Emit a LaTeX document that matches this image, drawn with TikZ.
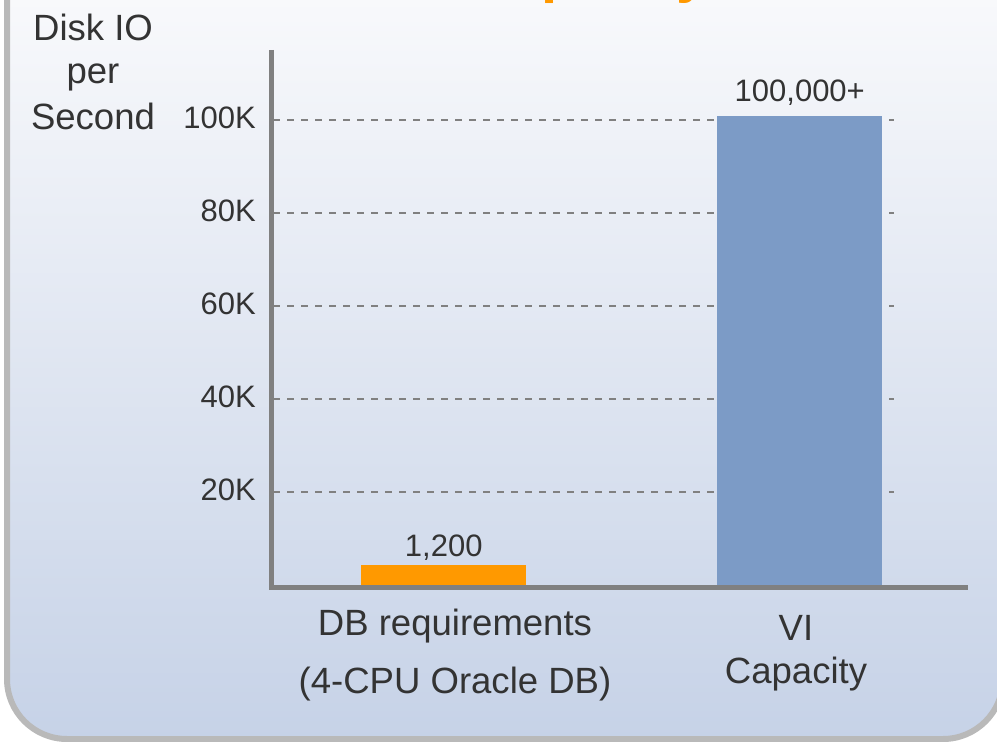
\documentclass[tikz,border=0pt]{standalone}
\usepackage{fontspec}
\setmainfont{Liberation Sans}
\usepackage{tikz}
\usetikzlibrary{positioning}
\definecolor{colorText}{RGB}{51,51,51}
\definecolor{colorAxis}{RGB}{128,128,128}
\definecolor{colorFrame}{RGB}{185,185,185}
\definecolor{colorTitle}{RGB}{255,153,0}
\definecolor{colorDB}{RGB}{255,153,0}
\definecolor{colorVI}{RGB}{124,155,198}
\definecolor{colorTop}{RGB}{252,252,253}
\definecolor{colorBottom}{RGB}{198,210,231}
\tikzset{every node/.style={inner sep=0pt, text=colorText}}

\begin{document}
\begin{tikzpicture}[x=0.75pt, y=-0.75pt, gridline/.style={colorAxis, line width=1.1pt, dash pattern=on 5.25pt off 5.25pt}, axisline/.style={colorAxis, line width=3.75pt}, barbox/.style={anchor=south west, minimum width=123.75pt}, ticklabel/.style={anchor=base east, font=\fontsize{23.25}{28}\selectfont}, vallabel/.style={font=\fontsize{23.25}{28}\selectfont}, catlabel/.style={anchor=base, font=\fontsize{27.4}{33}\selectfont}]
\useasboundingbox (0,0) rectangle (997,742);
\clip (0,0) rectangle (997,742);
\draw[colorFrame, line width=4.5pt, rounded corners=45pt, top color=colorTop, bottom color=colorBottom] (7,-60) rectangle (1003,739);
\node[anchor=base west, text=colorTitle, font=\bfseries\fontsize{43.5}{50}\selectfont] (title) at (467,-8) {Capacity};
\draw[gridline] (273,120) -- (894,120);
\draw[gridline] (273,213) -- (894,213);
\draw[gridline] (273,306) -- (894,306);
\draw[gridline] (273,399) -- (894,399);
\draw[gridline] (273,492) -- (894,492);
\node[barbox, fill=colorDB, minimum height=15pt] (bardb) at (361,585) {};
\node[barbox, fill=colorVI, minimum height=351.75pt] (barvi) at (717,585) {};
\draw[axisline] (271,50) -- (271,587) -- (968,587);
\node[vallabel, above=3pt of bardb] (valdb) {1,200};
\node[vallabel, above=7pt of barvi] (valvi) {100,000+};
\node[ticklabel] (tick100) at (256,128) {100K};
\node[ticklabel] (tick80) at (256,221) {80K};
\node[ticklabel] (tick60) at (256,314) {60K};
\node[ticklabel] (tick40) at (256,407) {40K};
\node[ticklabel] (tick20) at (256,500) {20K};
\node[catlabel] (ytitle1) at (93,41) {Disk IO};
\node[catlabel] (ytitle2) at (93,84) {per};
\node[catlabel] (ytitle3) at (93,130) {Second};
\node[catlabel] (catdb1) at (455,635) {DB requirements};
\node[catlabel] (catdb2) at (455,693) {(4-CPU Oracle DB)};
\node[catlabel] (catvi1) at (796,640) {VI};
\node[catlabel] (catvi2) at (796,683) {Capacity};
\end{tikzpicture}
\end{document}
